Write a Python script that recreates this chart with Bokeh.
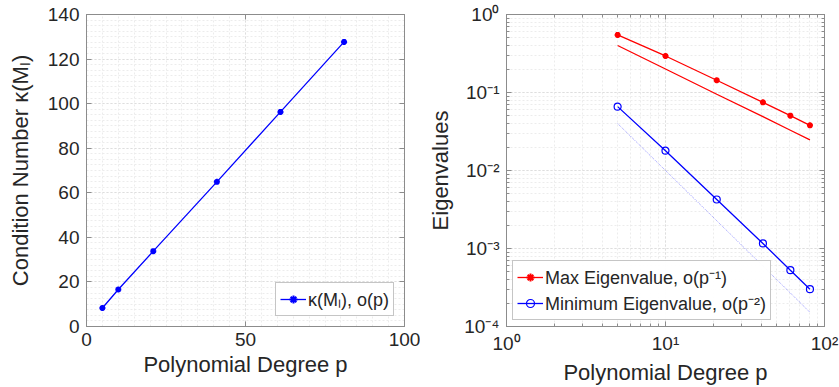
from bokeh.plotting import figure
from bokeh.layouts import row
from bokeh.models import (LinearAxis, LogAxis, Range1d, FixedTicker, LogTicker,
                          CustomJSTickFormatter, CustomLabelingPolicy, Legend, LegendItem)
from bokeh.embed import file_html
from bokeh.resources import INLINE

# ---------------- data ----------------
p_deg = [5, 10, 21, 41, 61, 81]
cond_num = [8.3, 16.6, 33.8, 64.9, 96.3, 127.7]

max_eig = [0.547, 0.294, 0.1435, 0.0748, 0.0505, 0.0379]
max_ref = [0.4, 0.2, 0.095, 0.049, 0.0328, 0.0247]
min_eig = [0.0659, 0.01795, 0.00425, 0.00116, 0.000527, 0.000301]
min_ref = [0.04, 0.01, 0.00227, 0.000595, 0.000269, 0.000152]

left_xticks = [0, 50, 100]
left_yticks = [0, 20, 40, 60, 80, 100, 120, 140]

FONT = "Liberation Sans"
TXT = "#262626"
AX = "#8c8c8c"
BLUE = "#0000ff"
RED = "#ff0000"


def style_axis(ax, label_size="19px"):
    ax.major_label_text_font = FONT
    ax.major_label_text_font_size = label_size
    ax.major_label_text_color = TXT
    ax.axis_label_text_font = FONT
    ax.axis_label_text_font_size = "22px"
    ax.axis_label_text_font_style = "normal"
    ax.axis_label_text_color = TXT
    ax.axis_line_color = AX
    ax.major_tick_line_color = AX
    ax.minor_tick_line_color = AX
    ax.major_tick_in = 5
    ax.major_tick_out = 0
    ax.minor_tick_in = 3
    ax.minor_tick_out = 0


def blank_axis(ax):
    style_axis(ax)
    ax.formatter = CustomJSTickFormatter(code="return ''")
    ax.major_label_policy = CustomLabelingPolicy(
        code="for (const i of indices) indices.unset(i)")
    ax.major_label_standoff = 0


def style_grid(p):
    for g in (p.xgrid, p.ygrid):
        g.grid_line_color = "#dedede"
        g.grid_line_dash = "2 2"
        g.minor_grid_line_color = "#ececec"
        g.minor_grid_line_dash = "2 2"


def make_fig(**kw):
    return figure(width=420, height=387, output_backend="svg", toolbar_location=None,
                  min_border_left=86, min_border_right=16, min_border_top=14,
                  min_border_bottom=61, outline_line_color=AX,
                  background_fill_color="white", border_fill_color="white", **kw)


# ---------------- left figure ----------------
p1 = make_fig(x_range=Range1d(0, 100), y_range=Range1d(0, 140))
p1.xaxis.ticker = FixedTicker(ticks=left_xticks,
                              minor_ticks=list(range(0, 101, 5)))
p1.yaxis.ticker = FixedTicker(ticks=left_yticks,
                              minor_ticks=[i * 2.5 for i in range(57)])
p1.xaxis.axis_label = "Polynomial Degree p"
p1.yaxis.axis_label = "Condition Number κ(Mₗ)"
for ax in p1.xaxis + p1.yaxis:
    style_axis(ax)
    ax.minor_tick_in = 0
p1.yaxis.axis_label_standoff = 12
p1.xaxis.axis_label_standoff = 3
p1.xaxis.major_label_standoff = 6
p1.yaxis.major_label_standoff = 7
style_grid(p1)

ax_r = LinearAxis(ticker=FixedTicker(ticks=left_yticks))
ax_t = LinearAxis(ticker=FixedTicker(ticks=left_xticks))
for ax in (ax_r, ax_t):
    blank_axis(ax)
    ax.minor_tick_in = 0
p1.add_layout(ax_r, "right")
p1.add_layout(ax_t, "above")

l1 = p1.line(p_deg, cond_num, line_color=BLUE, line_width=1.3)
m1 = p1.scatter(p_deg, cond_num, marker="asterisk", size=6, line_color=BLUE, line_width=2)

leg1 = Legend(items=[LegendItem(label="κ(Mₗ), o(p)", renderers=[l1, m1])],
              location="bottom_right", margin=10)
leg1.label_text_font = FONT
leg1.label_text_font_size = "18px"
leg1.label_text_color = TXT
leg1.glyph_width = 26
leg1.border_line_color = AX
leg1.padding = 4
leg1.spacing = 0
leg1.label_standoff = 2
p1.add_layout(leg1)

# ---------------- right figure ----------------
p2 = make_fig(x_axis_type="log", y_axis_type="log",
              x_range=Range1d(1, 100), y_range=Range1d(1e-4, 1))
sup_code = """
const sup = {'0':'⁰','1':'¹','2':'²','3':'³','4':'⁴','5':'⁵','6':'⁶','7':'⁷','8':'⁸','9':'⁹','-':'⁻'};
const e = Math.round(Math.log10(tick));
return '10' + String(e).split('').map(c => sup[c]).join('');
"""
p2.xaxis.formatter = CustomJSTickFormatter(code=sup_code)
p2.yaxis.formatter = CustomJSTickFormatter(code=sup_code)
p2.xaxis.ticker = LogTicker(num_minor_ticks=10, desired_num_ticks=3)
p2.yaxis.ticker = LogTicker(num_minor_ticks=10, desired_num_ticks=5)
p2.xaxis.axis_label = "Polynomial Degree p"
p2.yaxis.axis_label = "Eigenvalues"
for ax in p2.xaxis + p2.yaxis:
    style_axis(ax)
p2.yaxis.axis_label_standoff = 8
p2.xaxis.axis_label_standoff = 3
p2.xaxis.major_label_standoff = 6
p2.yaxis.major_label_standoff = 7
style_grid(p2)

ax_r2 = LogAxis(ticker=LogTicker(num_minor_ticks=10, desired_num_ticks=5))
ax_t2 = LogAxis(ticker=LogTicker(num_minor_ticks=10, desired_num_ticks=3))
for ax in (ax_r2, ax_t2):
    blank_axis(ax)
p2.add_layout(ax_r2, "right")
p2.add_layout(ax_t2, "above")

lr = p2.line(p_deg, max_eig, line_color=RED, line_width=1.3)
mr = p2.scatter(p_deg, max_eig, marker="asterisk", size=6, line_color=RED, line_width=2)
p2.line(p_deg, max_ref, line_color=RED, line_width=1.3)
lb = p2.line(p_deg, min_eig, line_color=BLUE, line_width=1.3)
mb = p2.scatter(p_deg, min_eig, marker="circle", size=7, line_color=BLUE,
                fill_color=None, line_width=1.2)
p2.line(p_deg, min_ref, line_color=BLUE, line_width=0.8, line_alpha=0.5, line_dash="1 1")

leg2 = Legend(items=[LegendItem(label="Max Eigenvalue, o(p⁻¹)", renderers=[lr, mr]),
                     LegendItem(label="Minimum Eigenvalue, o(p⁻²)", renderers=[lb, mb])],
              location="bottom_left", margin=6)
leg2.label_text_font = FONT
leg2.label_text_font_size = "18px"
leg2.label_text_color = TXT
leg2.glyph_width = 26
leg2.border_line_color = AX
leg2.padding = 4
leg2.spacing = 2
leg2.label_standoff = 2
p2.add_layout(leg2)

layout = row(p1, p2)
open("out.html", "w").write(file_html(layout, INLINE))
